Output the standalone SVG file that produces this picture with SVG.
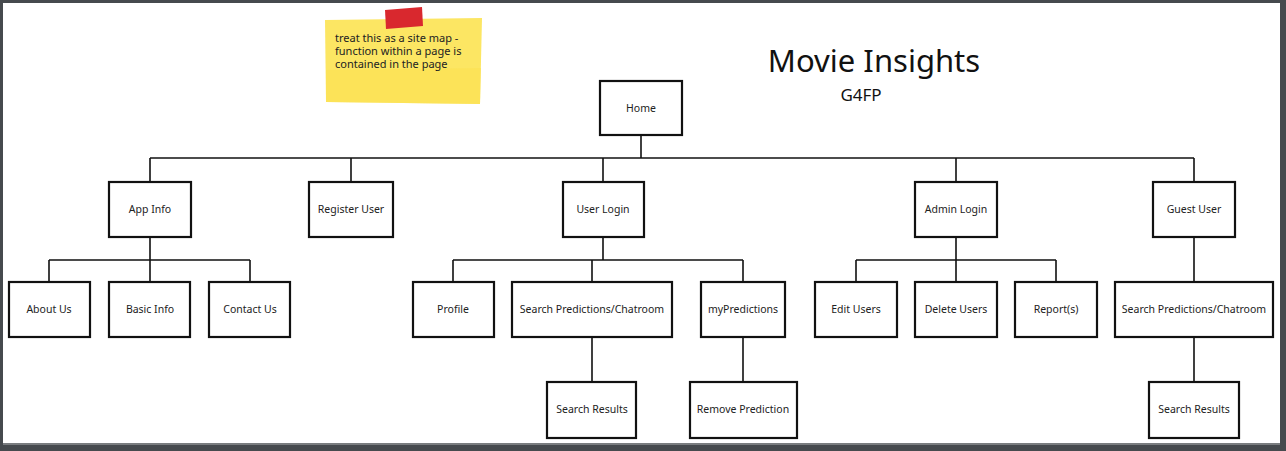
<svg xmlns="http://www.w3.org/2000/svg" width="1286" height="451" viewBox="0 0 1286 451">
<style>
.n rect{fill:#fff;stroke:#111;stroke-width:2.2}
.n text{font-family:"Noto Sans","Liberation Sans",sans-serif;font-size:10.5px;fill:#222;text-anchor:middle}
.c path{fill:none;stroke:#111;stroke-width:1.6}
.note{font-family:"Noto Sans","Liberation Sans",sans-serif;font-size:11px;fill:#222}
.ttl{font-family:"Noto Sans","Liberation Sans",sans-serif;fill:#111;text-anchor:middle}
</style>
<rect x="0" y="0" width="1286" height="451" fill="#464a4e"/>
<rect x="3" y="3" width="1277" height="440" fill="#fff"/>
<rect x="3" y="443" width="1277" height="2" fill="#7a7d80"/>

<g id="sticky">
<path d="M325,20 L482,18 L480,104 L326,102 Z" fill="#fce663"/>
<path d="M326,70 L481,68 L480,104 L326,102 Z" fill="#fbe152" opacity="0.6"/>
<path d="M385,10 L422,7 L423,26 L386,29 Z" fill="#d9282e"/>
<text class="note" x="335" y="42">treat this as a site map -</text>
<text class="note" x="335" y="55">function within a page is</text>
<text class="note" x="335" y="68">contained in the page</text>
</g>

<g id="title">
<text class="ttl" x="874" y="72" font-size="31">Movie Insights</text>
<text class="ttl" x="861" y="101" font-size="17">G4FP</text>
</g>

<g id="connectors" class="c">
<path d="M641,135 V158"/>
<path d="M150,158 H1194"/>
<path d="M150,158 V182 M351,158 V182 M603,158 V182 M956,158 V182 M1194,158 V182"/>
<path d="M150,237 V260 M49,260 H250 M49,260 V282 M150,260 V282 M250,260 V282"/>
<path d="M603,237 V260 M453,260 H743 M453,260 V282 M592,260 V282 M743,260 V282"/>
<path d="M592,337 V382 M743,337 V382"/>
<path d="M956,237 V260 M856,260 H1056 M856,260 V282 M956,260 V282 M1056,260 V282"/>
<path d="M1194,237 V282 M1194,337 V382"/>
</g>

<g id="home" class="n"><rect x="600" y="81" width="82" height="54"/><text x="641" y="112">Home</text></g>

<g id="app-info" class="n"><rect x="109" y="182" width="82" height="55"/><text x="150" y="213">App Info</text></g>
<g id="register-user" class="n"><rect x="309" y="182" width="84" height="55"/><text x="351" y="213">Register User</text></g>
<g id="user-login" class="n"><rect x="563" y="182" width="81" height="55"/><text x="603" y="213">User Login</text></g>
<g id="admin-login" class="n"><rect x="915" y="182" width="82" height="55"/><text x="956" y="213">Admin Login</text></g>
<g id="guest-user" class="n"><rect x="1153" y="182" width="82" height="55"/><text x="1194" y="213">Guest User</text></g>

<g id="about-us" class="n"><rect x="9" y="282" width="81" height="55"/><text x="49" y="313">About Us</text></g>
<g id="basic-info" class="n"><rect x="109" y="282" width="81" height="55"/><text x="150" y="313">Basic Info</text></g>
<g id="contact-us" class="n"><rect x="209" y="282" width="81" height="55"/><text x="250" y="313">Contact Us</text></g>

<g id="profile" class="n"><rect x="413" y="282" width="81" height="55"/><text x="453" y="313">Profile</text></g>
<g id="search-predictions" class="n"><rect x="512" y="282" width="160" height="55"/><text x="592" y="313">Search Predictions/Chatroom</text></g>
<g id="my-predictions" class="n"><rect x="701" y="282" width="84" height="55"/><text x="743" y="313">myPredictions</text></g>

<g id="edit-users" class="n"><rect x="815" y="282" width="82" height="55"/><text x="856" y="313">Edit Users</text></g>
<g id="delete-users" class="n"><rect x="915" y="282" width="82" height="55"/><text x="956" y="313">Delete Users</text></g>
<g id="reports" class="n"><rect x="1015" y="282" width="82" height="55"/><text x="1056" y="313">Report(s)</text></g>

<g id="guest-search-predictions" class="n"><rect x="1115" y="282" width="158" height="55"/><text x="1194" y="313">Search Predictions/Chatroom</text></g>

<g id="search-results" class="n"><rect x="547" y="382" width="89" height="56"/><text x="592" y="413">Search Results</text></g>
<g id="remove-prediction" class="n"><rect x="690" y="382" width="107" height="56"/><text x="743" y="413">Remove Prediction</text></g>
<g id="guest-search-results" class="n"><rect x="1149" y="382" width="90" height="56"/><text x="1194" y="413">Search Results</text></g>
</svg>
